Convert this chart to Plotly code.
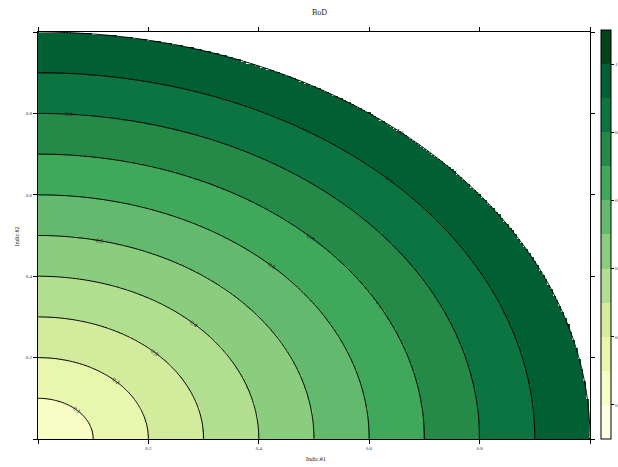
import numpy as np
import plotly.graph_objects as go

# Grid of the two indicators (201 x 201 cells on the unit square)
indic1 = np.linspace(0.0, 1.0, 201)
indic2 = np.linspace(0.0, 1.0, 201)

# BoD score: distance from the origin; outside the frontier (> 1) is left empty
X, Y = np.meshgrid(indic1, indic2)
bod_full = np.sqrt(X ** 2 + Y ** 2)
bod = np.where(bod_full > 1.0, np.nan, bod_full)

# Contour levels and colour key
levels = [0.1, 0.2, 0.3, 0.4, 0.5, 0.6, 0.7, 0.8, 0.9, 1.0]
key_min, key_max = -0.1, 1.1
band_colors = [
    "#ffffe5", "#f8fcc5", "#e9f6ae", "#d2eb9d", "#b2de8f", "#8bcd7e",
    "#63b96e", "#40a85b", "#258a48", "#0c7440", "#005f33", "#00441b",
]
key_ticks = [0.0, 0.2, 0.4, 0.6, 0.8, 1.0]
key_ticktext = ["0", "0.2", "0.4", "0.6", "0.8", "1"]
axis_ticks = [0.0, 0.2, 0.4, 0.6, 0.8, 1.0]
axis_ticktext = ["", "0.2", "0.4", "0.6", "0.8", ""]
# polar angle (degrees) where each contour carries its label
label_theta = [45, 45, 45, 45, 77, 45, 45, 86, 45, 49]

# discrete colourscale with hard steps between bands
n = len(band_colors)
colorscale = []
for i, c in enumerate(band_colors):
    colorscale.append([i / n, c])
    colorscale.append([(i + 1) / n, c])

SERIF = "Liberation Serif, Times New Roman, serif"
L, R, T, B = 38, 28, 31.5, 28
W, H = 618, 467
pw, ph = W - L - R, H - T - B

fig = go.Figure()

fig.add_trace(go.Heatmap(
    x=indic1, y=indic2, z=bod,
    zmin=key_min, zmax=key_max,
    colorscale=colorscale,
    hoverongaps=False,
    colorbar=dict(
        x=1.0 + (601 - (W - R)) / pw, xanchor="left", xpad=0,
        y=0, yanchor="bottom", ypad=0,
        len=409, lenmode="pixels",
        thickness=10,
        outlinewidth=1, outlinecolor="black",
        tickvals=key_ticks, ticktext=key_ticktext,
        ticks="outside", ticklen=3, tickcolor="black",
        tickfont=dict(family=SERIF, size=5, color="#333333"),
    ),
))

fig.add_trace(go.Contour(
    x=indic1, y=indic2, z=bod_full,
    autocontour=False,
    contours=dict(start=levels[0], end=levels[-1], size=0.1,
                  coloring="none", showlabels=False),
    line=dict(color="black", width=1),
    showscale=False,
    hoverinfo="skip",
))

# contour labels, rotated along each arc
annotations = []
for lv, th in zip(levels, label_theta):
    t = np.radians(th)
    ang = np.degrees(np.arctan2(np.cos(t) * ph, np.sin(t) * pw))
    annotations.append(dict(
        x=lv * np.cos(t), y=lv * np.sin(t), xref="x", yref="y",
        text=f"{lv:.1f}", showarrow=False, textangle=ang,
        font=dict(family=SERIF, size=6, color="#222222"),
    ))

annotations += [
    dict(text="BoD", x=(319 - L) / pw, y=1, xref="paper", yref="paper",
         yanchor="middle", yshift=T - 12, showarrow=False,
         font=dict(family=SERIF, size=8, color="#222222")),
    dict(text="Indic.#1", x=(316 - L) / pw, y=0, xref="paper", yref="paper",
         yanchor="middle", yshift=-20, showarrow=False,
         font=dict(family=SERIF, size=6, color="#222222")),
    dict(text="Indic.#2", x=0, y=(439 - 236) / ph, xref="paper", yref="paper",
         xanchor="center", xshift=-21, textangle=-90, showarrow=False,
         font=dict(family=SERIF, size=6, color="#222222")),
]

axis_common = dict(
    showgrid=False, zeroline=False,
    showline=True, linecolor="black", linewidth=1, mirror="ticks",
    ticks="outside", ticklen=4, tickcolor="black",
    tickvals=axis_ticks, ticktext=axis_ticktext,
    tickfont=dict(family=SERIF, size=5, color="#333333"),
    range=[0, 1],
)

fig.update_layout(
    width=W, height=H,
    margin=dict(l=L, r=R, t=T, b=B, autoexpand=False),
    paper_bgcolor="white", plot_bgcolor="white",
    xaxis=dict(**axis_common),
    yaxis=dict(**axis_common),
    annotations=annotations,
    showlegend=False,
)

fig.write_html("out.html")
